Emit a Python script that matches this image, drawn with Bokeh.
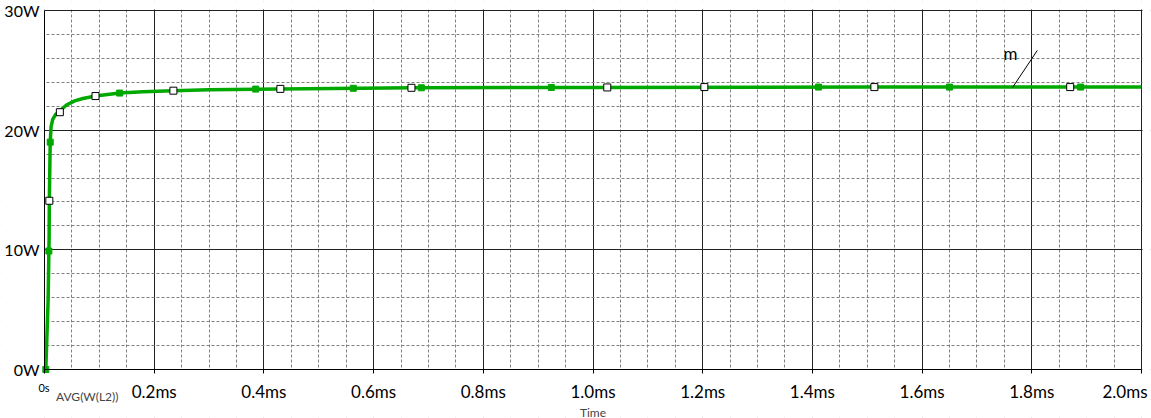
from bokeh.plotting import figure
from bokeh.models import (FixedTicker, CustomJSTickFormatter, Label, Legend,
                          LegendItem, Range1d, BoxAnnotation)
from bokeh.embed import file_html
from bokeh.resources import INLINE
from bokeh.core.properties import value

FONT = "Lato"
GREEN = "#00A800"

# ---- data (time in ms, power in W) ----
time_ms = [0.0, 0.0024, 0.0042, 0.0066, 0.0084, 0.0088, 0.0104, 0.012, 0.015,
           0.020, 0.028, 0.040, 0.055, 0.070, 0.093, 0.137, 0.180, 0.235,
           0.300, 0.430, 0.670, 1.000, 1.500, 2.000]
power_w = [0.0, 0.0, 2.5, 5.8, 11.0, 14.1, 19.0, 20.3, 20.9,
           21.3, 21.6, 22.1, 22.45, 22.65, 22.85, 23.1, 23.22, 23.3,
           23.38, 23.45, 23.54, 23.57, 23.6, 23.6]

white_t = [0.0088, 0.028, 0.093, 0.235, 0.430, 0.669, 1.026, 1.203, 1.513, 1.870]
white_w = [14.1, 21.5, 22.85, 23.3, 23.45, 23.54, 23.57, 23.6, 23.6, 23.6]

green_t = [0.0024, 0.0080, 0.0104, 0.137, 0.385, 0.563, 0.687, 0.924, 1.411, 1.650, 1.889]
green_w = [0.0, 9.9, 19.0, 23.1, 23.43, 23.5, 23.54, 23.57, 23.6, 23.6, 23.6]

x_ticks = [0.0, 0.2, 0.4, 0.6, 0.8, 1.0, 1.2, 1.4, 1.6, 1.8, 2.0]
x_labels = ["0s", "0.2ms", "0.4ms", "0.6ms", "0.8ms", "1.0ms", "1.2ms", "1.4ms",
            "1.6ms", "1.8ms", "2.0ms"]
y_ticks = [0, 10, 20, 30]
y_labels = ["0W", "10W", "20W", "30W"]

x_minor = [round(i * 0.05, 4) for i in range(41) if i % 4 != 0]
y_minor = [i * 2 for i in range(16) if i % 5 != 0]

series_name = "AVG(W(L2))"
x_title = "Time"
marker_text = "m"
marker_tip = (1.765, 23.57)
marker_end = (1.810, 26.66)
marker_text_pos = (1.761, 26.4)

X_MIN, X_MAX = 0.0, 2.0
Y_MIN, Y_MAX = 0.0, 30.0

# ---- layout (pixels; Bokeh's page template has no body margin) ----
W, H = 1151, 418
B = 1                 # canvas border on every side
PAD_L = 43            # frame px left of the 0 ms line
PAD_T = 9             # frame px above the 30 W line
PLOT_W = 1097         # px between 0 ms and 2.0 ms
PLOT_H = 359          # px between 0 W and 30 W
px_x = (X_MAX - X_MIN) / PLOT_W
px_y = (Y_MAX - Y_MIN) / PLOT_H
frame_w = W - 2 * B
frame_h = H - 2 * B
x_start = X_MIN - PAD_L * px_x
x_end = x_start + frame_w * px_x
y_end = Y_MAX + PAD_T * px_y
y_start = y_end - frame_h * px_y

p = figure(width=W, height=H, output_backend="svg", toolbar_location=None,
           x_range=Range1d(x_start, x_end), y_range=Range1d(y_start, y_end),
           min_border=B, min_border_left=B, min_border_right=B,
           min_border_top=B, min_border_bottom=B)
p.background_fill_color = "white"
p.border_fill_color = "white"
p.outline_line_color = None

xt = FixedTicker(ticks=x_ticks, minor_ticks=x_minor)
yt = FixedTicker(ticks=y_ticks, minor_ticks=y_minor)
p.xaxis.ticker = xt
p.yaxis.ticker = yt
p.xgrid.ticker = xt
p.ygrid.ticker = yt

FMT = """
const i = tvals.findIndex(t => Math.abs(t - tick) < 1e-9);
if (i <= 0 || i >= tvals.length - 1) return "";
return tlabels[i];
"""
YFMT = """
const i = tvals.findIndex(t => Math.abs(t - tick) < 1e-9);
return i >= 0 ? tlabels[i] : "";
"""
p.xaxis.formatter = CustomJSTickFormatter(args=dict(tvals=x_ticks, tlabels=x_labels), code=FMT)
p.yaxis.formatter = CustomJSTickFormatter(args=dict(tvals=y_ticks, tlabels=y_labels), code=YFMT)

for g in (p.xgrid, p.ygrid):
    g.level = "image"
    g.grid_line_color = "#222222"
    g.grid_line_width = 1
    g.minor_grid_line_color = "#808080"
    g.minor_grid_line_dash = "3 2"
    g.minor_grid_line_width = 1

# white covers for the margins around the plot box (hide grid overshoot)
FAR = 100.0
cover = dict(fill_color="white", fill_alpha=1.0, line_color=None, level="underlay")
p.add_layout(BoxAnnotation(top=Y_MIN, bottom=Y_MIN - FAR, left=-FAR, right=FAR, **cover))
p.add_layout(BoxAnnotation(right=X_MIN, left=X_MIN - FAR, bottom=-FAR, top=FAR, **cover))
p.add_layout(BoxAnnotation(bottom=Y_MAX + px_y, top=Y_MAX + FAR, left=-FAR, right=FAR, **cover))
p.add_layout(BoxAnnotation(left=X_MAX + px_x, right=X_MAX + FAR, bottom=-FAR, top=FAR, **cover))

for ax in (p.xaxis, p.yaxis):
    ax.axis_line_color = "black"
    ax.major_tick_line_color = "black"
    ax.minor_tick_line_color = None
    ax.major_tick_in = 0
    ax.major_label_text_font = FONT
    ax.major_label_text_color = "black"

p.xaxis.fixed_location = Y_MIN
p.xaxis.bounds = (X_MIN, X_MAX)
p.xaxis.major_tick_out = 4
p.xaxis.major_label_text_font_size = "17px"
p.xaxis.major_label_standoff = 7
p.xaxis.axis_label = x_title
p.xaxis.axis_label_text_font = FONT
p.xaxis.axis_label_text_font_size = "12px"
p.xaxis.axis_label_text_font_style = "normal"
p.xaxis.axis_label_standoff = 0

p.yaxis.fixed_location = X_MIN
p.yaxis.bounds = (Y_MIN, Y_MAX)
p.yaxis.major_tick_out = 0
p.yaxis.major_label_text_font_size = "16px"
p.yaxis.major_label_standoff = 1

# ---- series ----
p.line(time_ms, power_w, line_color=GREEN, line_width=3.5)
p.scatter(green_t, green_w, marker="square", size=6, fill_color=GREEN,
          line_color=GREEN)
p.scatter(white_t, white_w, marker="square", size=7, fill_color="white",
          line_color="black", line_width=1)

# marker annotation "m"
p.segment(x0=[marker_tip[0]], y0=[marker_tip[1]], x1=[marker_end[0]],
          y1=[marker_end[1]], line_color="black", line_width=1)
p.text(x=[marker_text_pos[0]], y=[marker_text_pos[1]], text=[marker_text],
       text_font=value(FONT), text_font_size="17px", text_align="center",
       text_baseline="middle", text_color="black")

# first / last tick labels (small "0s", right-aligned "2.0ms")
p.add_layout(Label(x=x_ticks[0], y=Y_MIN, text=x_labels[0], text_font=FONT,
                   text_font_size="11px", text_align="center",
                   text_baseline="middle", x_offset=-0.5, y_offset=-18,
                   text_color="black"))
p.add_layout(Label(x=x_ticks[-1], y=Y_MIN, text=x_labels[-1], text_font=FONT,
                   text_font_size="17px", text_align="right",
                   text_baseline="middle", x_offset=6, y_offset=-22,
                   text_color="black"))

# legend (location in px from the frame's bottom-left corner)
dummy = p.scatter(x=[], y=[], marker="square", size=6, fill_color="white",
                  line_color=GREEN, line_width=1)
legend = Legend(items=[LegendItem(label=series_name, renderers=[dummy])],
                location=(PAD_L - 2, 13), padding=0, margin=0, spacing=0,
                glyph_width=13, glyph_height=13, label_height=13,
                label_standoff=1, label_text_font=FONT,
                label_text_font_size="12px", background_fill_alpha=0,
                border_line_color=None)
p.add_layout(legend, "center")

open("out.html", "w").write(file_html(p, INLINE))
